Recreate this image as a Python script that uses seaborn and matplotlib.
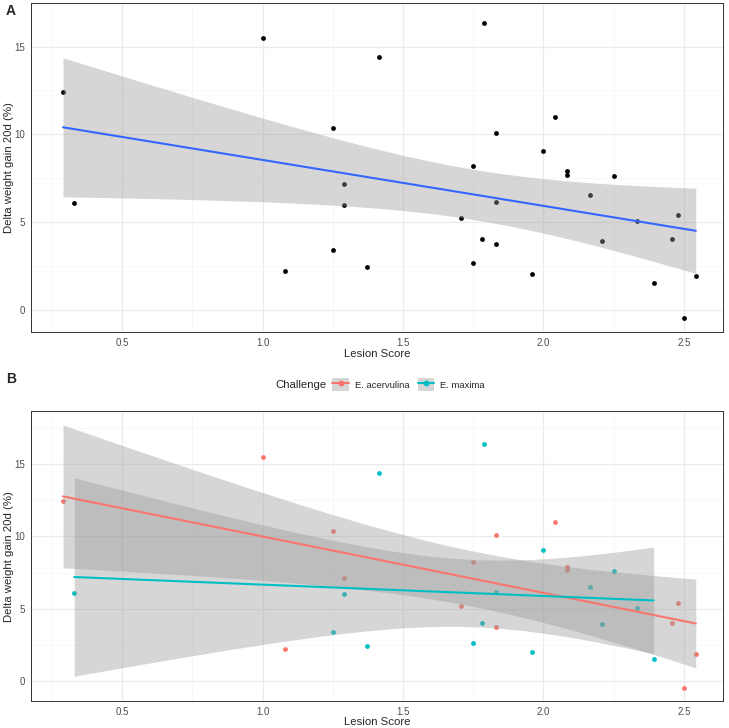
import numpy as np
import pandas as pd
import matplotlib
matplotlib.use("Agg")
import matplotlib.pyplot as plt
from matplotlib.lines import Line2D
from matplotlib.patches import Patch
from matplotlib.legend_handler import HandlerTuple
import seaborn as sns

# data (lesion score, delta weight gain, challenge)
acerv_x = [0.29, 1.00, 1.25, 1.29, 1.08, 2.042, 1.832, 1.749, 2.083, 2.083, 2.479, 1.707, 1.832, 2.458, 2.542, 2.50]
acerv_y = [12.4, 15.5, 10.35, 7.14, 2.2, 11.0, 10.09, 8.2, 7.9, 7.68, 5.4, 5.2, 3.73, 4.03, 1.9, -0.45]
maxima_x = [0.33, 1.29, 1.25, 1.373, 1.416, 1.789, 2.00, 2.251, 2.167, 1.832, 2.334, 1.782, 2.208, 1.749, 1.958, 2.392]
maxima_y = [6.08, 5.99, 3.39, 2.44, 14.38, 16.34, 9.04, 7.64, 6.52, 6.13, 5.05, 4.03, 3.93, 2.66, 2.01, 1.53]
groups = ["E. acervulina", "E. maxima"]
group_colors = ["#F8766D", "#00BFC4"]

df = pd.DataFrame({
    "Lesion Score": acerv_x + maxima_x,
    "Delta weight gain 20d (%)": acerv_y + maxima_y,
    "Challenge": [groups[0]] * len(acerv_x) + [groups[1]] * len(maxima_x),
})

# t critical values (95%) for df = n - 2
T_CRIT = {30: 2.0423, 14: 2.1448}

sns.set_style("white")
plt.rcParams["font.family"] = ["Liberation Sans", "DejaVu Sans"]

XCOL = "Lesion Score"
YCOL = "Delta weight gain 20d (%)"


def ci_band(ax, x, y):
    x = np.asarray(x, float)
    y = np.asarray(y, float)
    n = len(x)
    b, a = np.polyfit(x, y, 1)
    resid = y - (a + b * x)
    s = np.sqrt(np.sum(resid ** 2) / (n - 2))
    xs = np.linspace(x.min(), x.max(), 100)
    se = s * np.sqrt(1 / n + (xs - x.mean()) ** 2 / np.sum((x - x.mean()) ** 2))
    fit = a + b * xs
    t = T_CRIT[n - 2]
    ax.fill_between(xs, fit - t * se, fit + t * se, color="#999999", alpha=0.4,
                    lw=0, zorder=3)


def style_ax(ax, ylim):
    ax.set_xlim(0.176, 2.64)
    ax.set_ylim(*ylim)
    ax.set_xticks([0.5, 1.0, 1.5, 2.0, 2.5])
    ax.set_yticks([0, 5, 10, 15])
    ax.set_xticks([0.25, 0.75, 1.25, 1.75, 2.25], minor=True)
    ax.set_yticks([2.5, 7.5, 12.5, 17.5], minor=True)
    ax.grid(True, which="major", color="#EBEBEB", lw=0.9, zorder=0)
    ax.grid(True, which="minor", color="#F4F4F4", lw=0.5, zorder=0)
    ax.set_axisbelow(True)
    ax.tick_params(which="major", length=2.5, width=0.6, color="#333333",
                   labelsize=7, labelcolor="#4D4D4D", pad=2)
    ax.tick_params(which="minor", length=0)
    for sp in ax.spines.values():
        sp.set_color("#333333")
        sp.set_linewidth(0.7)
    ax.set_xlabel("")
    ax.set_ylabel("")


fig = plt.figure(figsize=(7.29, 7.28), dpi=100)

# panel A
axA = fig.add_axes([0.0425, 0.544, 0.9497, 0.4523])
sns.regplot(data=df, x=XCOL, y=YCOL, ax=axA, ci=None, color="black",
            scatter_kws={"s": 12, "zorder": 2, "linewidths": 0, "alpha": 1},
            line_kws={"color": "#3366FF", "lw": 1.5, "zorder": 4})
ci_band(axA, df[XCOL], df[YCOL])
style_ax(axA, (-1.27, 17.16))

# panel B
axB = fig.add_axes([0.0425, 0.0375, 0.9497, 0.3979])
for g, c in zip(groups, group_colors):
    sub = df[df["Challenge"] == g]
    sns.regplot(data=sub, x=XCOL, y=YCOL, ax=axB, ci=None, color=c,
                scatter_kws={"s": 12, "zorder": 2, "linewidths": 0, "alpha": 1},
                line_kws={"color": c, "lw": 1.5, "zorder": 4})
    ci_band(axB, sub[XCOL], sub[YCOL])
style_ax(axB, (-1.34, 18.64))

# axis titles
fig.text(0.517, 0.514, "Lesion Score", fontsize=8.2, ha="center", va="center")
fig.text(0.517, 0.0085, "Lesion Score", fontsize=8.2, ha="center", va="center")
fig.text(0.013, 0.770, "Delta weight gain 20d (%)", fontsize=8.2, rotation=90,
         ha="center", va="center")
fig.text(0.013, 0.236, "Delta weight gain 20d (%)", fontsize=8.2, rotation=90,
         ha="center", va="center")

# legend
handles = []
for c in group_colors:
    handles.append((Patch(facecolor="#999999", alpha=0.4, edgecolor="none"),
                    Line2D([], [], color=c, lw=1.5, marker="o", markersize=3.2)))
fig.legend(handles, groups, loc="center left", bbox_to_anchor=(0.456, 0.4715), ncol=2,
           frameon=False, fontsize=6.8, handler_map={tuple: HandlerTuple(ndivide=1, pad=0)},
           handlelength=1.75, handleheight=1.75, columnspacing=0.9, handletextpad=0.6,
           borderpad=0, borderaxespad=0)
fig.text(0.4486, 0.4715, "Challenge", fontsize=8.2, ha="right", va="center")

fig.text(0.008, 0.994, "A", fontsize=10, fontweight="bold", va="top")
fig.text(0.008, 0.489, "B", fontsize=10, fontweight="bold", va="top")

fig.savefig("out.png", dpi=100)
